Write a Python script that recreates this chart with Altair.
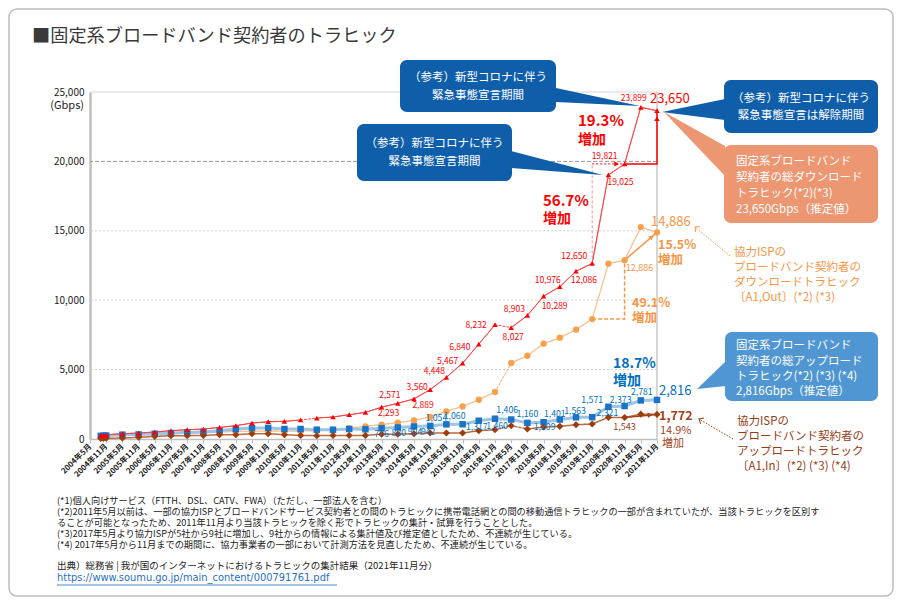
import math
import json
import altair as alt
import pandas as pd

FONT = "Noto Sans CJK JP"

# ---------------- data ----------------
dates = ["2004年9月", "2004年10月", "2004年11月",
         "2005年5月", "2005年11月", "2006年5月", "2006年11月", "2007年5月", "2007年11月",
         "2008年5月", "2008年11月", "2009年5月", "2009年11月", "2010年5月", "2010年11月",
         "2011年5月", "2011年11月", "2012年5月", "2012年11月", "2013年5月", "2013年11月",
         "2014年5月", "2014年11月", "2015年5月", "2015年11月", "2016年5月", "2016年11月",
         "2017年5月", "2017年11月", "2018年5月", "2018年11月", "2019年5月", "2019年11月",
         "2020年5月", "2020年11月", "2021年5月", "2021年11月"]

tick_labels = ["2004年5月", "2004年11月"] + dates[3:]

# 固定系ブロードバンド契約者の総ダウンロードトラヒック (Gbps)
total_down = [250, 270, 300, 380, 430, 505, 600, 670, 720, 835, 960, 1150, 1245, 1270, 1370,
              1510, 1585, 1750, 1915, 2293, 2571, 2889, 3560, 4448, 5467, 6840, 8232, 8027,
              8903, 10289, 10976, 12086, 12650, 19025, 19821, 23899, 23650]
# 協力ISPのダウンロードトラヒック (A1,Out)
isp_down = [200, 210, 215, 260, 300, 340, 380, 420, 450, 500, 540, 560, 580, 570, 580,
            600, 650, 780, 910, 1040, 1180, 1340, 1585, 1990, 2350, 2830, 3385, 5475,
            6000, 6870, 7300, 7875, 8642, 12630, 12886, 15270, 14886]
# 固定系ブロードバンド契約者の総アップロードトラヒック
total_up = [230, 240, 250, 310, 330, 380, 430, 475, 505, 600, 720, 790, 800, 720, 720,
            670, 670, 720, 700, 776, 830, 904, 942, 1054, 1060, 1317, 1460, 1406,
            1160, 1209, 1401, 1563, 1571, 2321, 2373, 2781, 2816]
# 協力ISPのアップロードトラヒック (A1,In)
isp_up = [40, 45, 50, 70, 120, 190, 240, 240, 260, 310, 310, 380, 380, 310, 260,
          240, 260, 260, 260, 350, 350, 380, 430, 430, 430, 600, 670, 960,
          720, 860, 910, 1030, 1080, 1560, 1543, 1790, 1772]

# segments drawn dotted (discontinuities), by starting date
total_down_dash = ["2010年11月", "2016年11月"]
total_up_dash = ["2010年11月", "2017年5月"]
isp_down_dash = ["2016年11月"]
isp_up_dash = ["2016年11月", "2017年5月"]

# value labels: date -> pixel offset of the label
total_down_lab = {"2013年5月": (7, 6), "2013年11月": (-8, -8), "2014年5月": (9, 6),
                  "2014年11月": (-13, -3), "2015年5月": (-12, -6), "2015年11月": (-15, -2),
                  "2016年5月": (-19, 3), "2016年11月": (-19, 0), "2017年5月": (2, 9),
                  "2017年11月": (-13, -6), "2018年5月": (11, 10), "2018年11月": (-12, -7),
                  "2019年5月": (8, 9), "2019年11月": (-18, -7), "2020年5月": (12, 7),
                  "2020年11月": (-20, -8), "2021年5月": (-7, -9)}
total_up_lab = {"2013年5月": (0, 6), "2013年11月": (1, 6), "2014年5月": (1, 6),
                "2014年11月": (-2, 6), "2015年5月": (-10, -6), "2015年11月": (-8, -8),
                "2016年5月": (-2, 6), "2016年11月": (2, 7), "2017年5月": (-4, -9),
                "2017年11月": (0, -9), "2018年5月": (1, 5), "2018年11月": (-5, -6),
                "2019年5月": (-1, -6), "2019年11月": (0, -17), "2020年5月": (-1, 6),
                "2020年11月": (-4, -6), "2021年5月": (1, -8)}
isp_down_lab = {"2020年11月": (15, 8)}
isp_up_lab = {"2020年11月": (0, 9)}

# ---------------- geometry helpers ----------------
W, H = 567, 347
PX0, PY0 = 90, 92
KX = W / 35.0
KY = H / 25000.0


def xpos(label):
    y, m = label.replace("月", "").split("年")
    return (int(y) - 2004) * 2 + (int(m) - 5) / 6.0


XPOS = [xpos(d) for d in dates]


def px2x(px):
    return (px - PX0) / KX


def py2y(py):
    return (PY0 + H - py) / KY


def d2px(x):
    return PX0 + x * KX


def d2py(v):
    return PY0 + H - v * KY


XS = alt.Scale(domain=[0, 35], nice=False, zero=False)
YS = alt.Scale(domain=[0, 25000], nice=False, zero=False)

AX_X = alt.Axis(
    values=list(range(36)), labelExpr=json.dumps(tick_labels, ensure_ascii=False) + "[datum.value]",
    labelAngle=-45, labelAlign="right", labelBaseline="middle", labelFont=FONT,
    labelFontSize=7.8, labelFontWeight="bold", labelColor="#1A1A1A", labelPadding=2,
    labelOverlap=False, labelBound=False, tickColor="#BFBFBF", tickSize=4,
    domainColor="#BFBFBF", domainWidth=1.5, grid=False, title=None)
AX_Y = alt.Axis(
    values=[0, 5000, 10000, 15000, 20000, 25000], format=",d", labelFont=FONT,
    labelFontSize=10, labelColor="#222222", labelPadding=6, ticks=False,
    domainColor="#BFBFBF", domainWidth=2.5, grid=False, title=None)


def ex(f="x"):
    return alt.X(f"{f}:Q", scale=XS, axis=AX_X)


def ey(f="y", **kw):
    return alt.Y(f"{f}:Q", scale=YS, axis=AX_Y, **kw)


# ---------------- layers ----------------
layers = []

# grid lines
layers.append(alt.Chart(pd.DataFrame({"y": [5000, 10000, 15000]})).mark_rule(
    color="#D0D0D0", strokeDash=[2, 2], strokeWidth=1).encode(y=ey()))
layers.append(alt.Chart(pd.DataFrame({"y": [20000]})).mark_rule(
    color="#9A9A9A", strokeDash=[4, 2], strokeWidth=1).encode(y=ey()))
layers.append(alt.Chart(pd.DataFrame({"y": [25000]})).mark_rule(
    color="#D6D6D6", strokeWidth=1).encode(y=ey()))
layers.append(alt.Chart(pd.DataFrame({"x": [35]})).mark_rule(
    color="#C8C8C8", strokeWidth=1.5).encode(x=ex()))


def seg_frame(values, dashed_after):
    rows = []
    seg = -1
    prev = None
    for i in range(len(values) - 1):
        style = "dash" if dates[i] in dashed_after else "solid"
        if style == "dash" or prev != "solid":
            seg += 1
            rows.append(dict(seg=seg, x=XPOS[i], y=values[i], style=style, o=i))
        rows.append(dict(seg=seg, x=XPOS[i + 1], y=values[i + 1], style=style, o=i + 1))
        prev = style
    return pd.DataFrame(rows)


def line_layer(values, dashed_after, color, width):
    return alt.Chart(seg_frame(values, dashed_after)).mark_line(
        color=color, strokeWidth=width, strokeCap="round").encode(
        x=ex(), y=ey(), detail="seg:N", order="o:Q",
        strokeDash=alt.StrokeDash("style:N", scale=alt.Scale(
            domain=["solid", "dash"], range=[[1, 0], [2, 2]]), legend=None))


def point_layer(values, shape, color, size):
    df = pd.DataFrame({"x": XPOS, "y": values})
    return alt.Chart(df).mark_point(shape=shape, filled=True, color=color, size=size,
                                    opacity=1).encode(x=ex(), y=ey())


def value_labels(values, labmap, color, size):
    rows = []
    for d, (dx, dy) in labmap.items():
        i = dates.index(d)
        rows.append({"x": XPOS[i] + dx / KX, "y": values[i] - dy / KY, "t": f"{values[i]:,}"})
    return alt.Chart(pd.DataFrame(rows)).mark_text(
        font=FONT, fontSize=size, color=color, align="center", baseline="middle").encode(
        x=ex(), y=ey(), text="t:N")


RED, BLUE, ORANGE, BROWN = "#FF0000", "#0070C0", "#F79646", "#963C14"

layers += [
    line_layer(isp_down, isp_down_dash, "#FAC08F", 1.3),
    line_layer(total_up, total_up_dash, "#9DC3E6", 3),
    line_layer(isp_up, isp_up_dash, "#BC6B3E", 1.5),
    line_layer(total_down, total_down_dash, "#FF4040", 1),
]


def path_layer(points, color, width, dash=None):
    df = pd.DataFrame({"x": [p[0] for p in points], "y": [p[1] for p in points],
                       "o": list(range(len(points)))})
    kw = dict(color=color, strokeWidth=width)
    if dash:
        kw["strokeDash"] = dash
    return alt.Chart(df).mark_line(**kw).encode(x=ex(), y=ey(), order="o:Q")


i31, i33, i35 = dates.index("2019年11月"), dates.index("2020年11月"), dates.index("2021年11月")
x31, x33, x35 = XPOS[i31], XPOS[i33], XPOS[i35]

# brackets / growth arrows
layers += [
    path_layer([(x31, total_down[i31]), (x31, total_down[i33])], "#FF9090", 1, [3, 2]),
    path_layer([(x31, total_down[i33]), (x33, total_down[i33])], RED, 1, [2, 2]),
    path_layer([(x33, total_down[i33]), (x35, total_down[i33]), (x35, total_down[i35])], RED, 1.5),
    path_layer([(x31, isp_down[i31]), (x33, isp_down[i31]), (x33, isp_down[i33])], ORANGE, 1.5, [4, 2]),
    path_layer([(x33, isp_down[i33]), (x35, isp_down[i35])], ORANGE, 1.5),
    path_layer([(x33, isp_up[i33]), (x35, isp_up[i35])], "#A0441A", 1.5),
]

layers += [
    point_layer(isp_down, "circle", "#F9A04B", 40),
    point_layer(total_up, "square", "#1A73C6", 42),
    point_layer(isp_up, "diamond", "#9C3B0C", 50),
    point_layer(total_down, "triangle-up", RED, 30),
]


def heads(items, color, size, shape="triangle-up", filled=True):
    rows = []
    for tip, frm, back in items:
        dx, dy = tip[0] - frm[0], tip[1] - frm[1]
        L = math.hypot(dx, dy)
        ang = math.degrees(math.atan2(dx, -dy)) % 360
        cx, cy = tip[0] - back * dx / L, tip[1] - back * dy / L
        rows.append({"x": px2x(cx), "y": py2y(cy), "ang": ang})
    kw = dict(shape=shape, filled=filled, color=color, size=size, opacity=1)
    if not filled:
        kw["strokeWidth"] = 1
    return alt.Chart(pd.DataFrame(rows)).mark_point(**kw).encode(
        x=ex(), y=ey(), angle=alt.Angle("ang:Q", scale=None))


p_red_top = (d2px(x35), d2py(total_down[i35]) + 5)
p_red_mid = (d2px(x33) - 5, d2py(total_down[i33]))
p_or_end = (d2px(x35), d2py(isp_down[i35]))
p_br_end = (d2px(x35), d2py(isp_up[i35]))
p_or_start = (d2px(x33), d2py(isp_down[i33]))
p_br_start = (d2px(x33), d2py(isp_up[i33]))

layers += [
    heads([(p_red_top, (p_red_top[0], p_red_top[1] + 40), 3),
           (p_red_mid, (p_red_mid[0] - 30, p_red_mid[1]), 3)], RED, 30),
    heads([(p_or_end, p_or_start, 7)], ORANGE, 30),
    heads([(p_br_end, p_br_start, 7)], "#A0441A", 30),
]

# dotted pointers from side captions
ptr_or = [(730, 256), (695, 227)]
ptr_br = [(733, 439), (699, 419)]
layers += [
    path_layer([(px2x(a), py2y(b)) for a, b in ptr_or], ORANGE, 1, [1.5, 1.5]),
    path_layer([(px2x(a), py2y(b)) for a, b in ptr_br], BROWN, 1, [1.5, 1.5]),
    heads([(ptr_or[1], ptr_or[0], 0)], ORANGE, 70, shape="M-0.8,0.9L0,0L0.8,0.9", filled=False),
    heads([(ptr_br[1], ptr_br[0], 0)], BROWN, 70, shape="M-0.8,0.9L0,0L0.8,0.9", filled=False),
]

# value labels
layers += [
    value_labels(total_down, total_down_lab, RED, 8.5),
    value_labels(total_up, total_up_lab, BLUE, 8.7),
    value_labels(isp_down, isp_down_lab, ORANGE, 9),
    value_labels(isp_up, isp_up_lab, BROWN, 9),
]

# callout boxes (page pixels)
DARKBLUE, SALMON, MIDBLUE = "#0F5EAA", "#EC9672", "#5096D2"
boxes = [(400, 60, 556, 112, DARKBLUE), (357, 124, 512, 181, DARKBLUE),
         (724, 80, 878, 133, DARKBLUE), (724, 145, 878, 223, SALMON),
         (725, 332, 878, 401, MIDBLUE)]
tails = [((640, 106), 556, 88, 102, DARKBLUE), ((603, 175), 511, 151, 168, DARKBLUE),
         ((662, 112), 725, 99, 120, DARKBLUE), ((664, 112), 725, 146, 176, SALMON),
         ((697, 389), 726, 361, 386, MIDBLUE)]

for tip, bx, t0, t1, c in tails:
    df = pd.DataFrame({"x": [px2x(tip[0]), px2x(bx)], "y": [py2y(tip[1]), py2y(t0)],
                       "y2": [py2y(tip[1]), py2y(t1)]})
    layers.append(alt.Chart(df).mark_area(color=c, opacity=1).encode(
        x=ex(), y=ey(stack=False), y2="y2:Q"))

bdf = pd.DataFrame({"x": [px2x(b[0]) for b in boxes], "x2": [px2x(b[2]) for b in boxes],
                    "y": [py2y(b[1]) for b in boxes], "y2": [py2y(b[3]) for b in boxes],
                    "c": [b[4] for b in boxes]})
layers.append(alt.Chart(bdf).mark_rect(cornerRadius=7).encode(
    x=ex(), x2="x2:Q", y=ey(), y2="y2:Q", color=alt.Color("c:N", scale=None)))


def texts(rows, color, size, weight="normal", align="left", font=FONT):
    df = pd.DataFrame({"x": [px2x(r[0]) for r in rows], "y": [py2y(r[1]) for r in rows],
                       "t": [r[2] for r in rows]})
    return alt.Chart(df).mark_text(font=font, fontSize=size, fontWeight=weight, color=color,
                                   align=align, baseline="middle").encode(
        x=ex(), y=ey(), text="t:N")


layers += [
    texts([(478, 78, "（参考）新型コロナに伴う"), (478, 96, "緊急事態宣言期間"),
           (434.5, 144, "（参考）新型コロナに伴う"), (434.5, 162, "緊急事態宣言期間"),
           (801, 99, "（参考）新型コロナに伴う"), (801, 116, "緊急事態宣言は解除期間")],
          "white", 11.5, align="center"),
    texts([(736, 162, "固定系ブロードバンド"), (736, 178, "契約者の総ダウンロード"),
           (736, 194, "トラヒック(*2)(*3)"), (736, 210, "23,650Gbps（推定値）"),
           (736, 346, "固定系ブロードバンド"), (736, 362, "契約者の総アップロード"),
           (736, 377, "トラヒック(*2) (*3) (*4)"), (736, 392, "2,816Gbps（推定値）")],
          "white", 11.5),
    texts([(734, 253, "協力ISPの"), (734, 268, "ブロードバンド契約者の"),
           (734, 283, "ダウンロードトラヒック"), (734, 298, "〔A1,Out〕(*2) (*3)")],
          ORANGE, 11.5),
    texts([(737, 422, "協力ISPの"), (737, 437, "ブロードバンド契約者の"),
           (737, 452, "アップロードトラヒック"), (737, 467, "〔A1,In〕(*2) (*3) (*4)")],
          BROWN, 11.5),
    # growth annotations
    texts([(578, 121, "19.3%"), (543, 201, "56.7%")], RED, 15, "bold"),
    texts([(578, 140, "増加"), (543, 219, "増加")], RED, 14, "bold"),
    texts([(650, 99, "23,650")], RED, 13),
    texts([(651, 222, "14,886")], ORANGE, 13),
    texts([(658, 245, "15.5%"), (658, 260, "増加"), (632, 303, "49.1%"), (632, 318, "増加")],
          ORANGE, 12.5, "bold"),
    texts([(613, 364, "18.7%"), (613, 381, "増加")], BLUE, 14, "bold"),
    texts([(659, 391, "2,816")], BLUE, 13),
    texts([(659, 416, "1,772")], "#A0441A", 12.5, "bold"),
    texts([(660, 431, "14.9%"), (662, 444, "増加")], "#A0441A", 11),
    # title and axis unit
    texts([(32, 37, "■固定系ブロードバンド契約者のトラヒック")], "#3A3A3A", 18.2),
    texts([(84, 106, "(Gbps)")], "#222222", 11, align="right"),
]

footnotes = [
    "(*1)個人向けサービス（FTTH、DSL、CATV、FWA）（ただし、一部法人を含む）",
    "(*2)2011年5月以前は、一部の協力ISPとブロードバンドサービス契約者との間のトラヒックに携帯電話網との間の移動通信トラヒックの一部が含まれていたが、当該トラヒックを区別す",
    "ることが可能となったため、2011年11月より当該トラヒックを除く形でトラヒックの集計・試算を行うこととした。",
    "(*3)2017年5月より協力ISPが5社から9社に増加し、9社からの情報による集計値及び推定値としたため、不連続が生じている。",
    "(*4) 2017年5月から11月までの期間に、協力事業者の一部において計測方法を見直したため、不連続が生じている。",
]
source = "出典）総務省 | 我が国のインターネットにおけるトラヒックの集計結果（2021年11月分）"
url = "https://www.soumu.go.jp/main_content/000791761.pdf"

layers += [
    texts([(57, 501 + 11 * k, t) for k, t in enumerate(footnotes)], "#222222", 9.2),
    texts([(57, 566, source)], "#222222", 9.5),
    texts([(57, 578, url)], "#1F6FC5", 9.9, font="DejaVu Sans"),
    path_layer([(px2x(57), py2y(585)), (px2x(337), py2y(585))], "#1F6FC5", 0.8),
]

# outer rounded frame
layers.append(alt.Chart(pd.DataFrame({"a": [0]})).mark_rect(
    fillOpacity=0, stroke="#BDBDBD", strokeWidth=1.5, cornerRadius=8).encode(
    x=alt.value(-PX0 + 8 + 1), x2=alt.value(886 - PX0 + 8 - 1),
    y=alt.value(-PY0 + 8 + 1), y2=alt.value(589 - PY0 + 8 - 1)))

chart = alt.layer(*layers).properties(
    width=W, height=H,
    padding={"left": PX0 - 8, "top": PY0 - 8, "right": 886 - (PX0 - 8) - W, "bottom": 589 - (PY0 - 8) - H},
    autosize=alt.AutoSizeParams(type="none"),
    background="white",
).configure_view(stroke=None)

chart.save("out.html", embed_options={"renderer": "svg", "actions": False})
